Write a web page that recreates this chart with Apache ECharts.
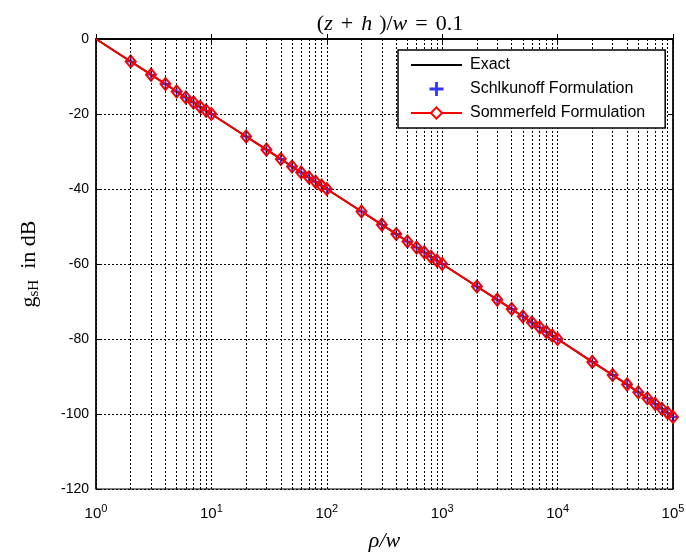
<!DOCTYPE html>
<html><head><meta charset="utf-8">
<script src="https://cdn.jsdelivr.net/npm/echarts@6/dist/echarts.min.js"></script>
<style>html,body{margin:0;padding:0;background:#fff}#c{width:686px;height:556px}</style>
</head><body><div id="c"></div>
<script>
// data
const rhoOverW = [1,2,3,4,5,6,7,8,9,10,20,30,40,50,60,70,80,90,100,200,300,400,500,600,700,800,900,1000,2000,3000,4000,5000,6000,7000,8000,9000,10000,20000,30000,40000,50000,60000,70000,80000,90000,100000];
const exactDb = [0,-6.0,-9.5,-12.0,-14.0,-15.6,-16.9,-18.1,-19.1,-20.0,-26.0,-29.5,-32.0,-34.0,-35.6,-36.9,-38.1,-39.1,-40.0,-46.0,-49.5,-52.0,-54.0,-55.6,-56.9,-58.1,-59.1,-60.0,-66.0,-69.5,-72.0,-74.0,-75.6,-76.9,-78.1,-79.1,-80.0,-86.1,-89.6,-92.1,-94.2,-95.8,-97.3,-98.6,-99.7,-100.8];
const schelkunoffDb = exactDb.slice();
const sommerfeldDb = exactDb.slice();
const minorGrid = [2,3,4,5,6,7,8,9,20,30,40,50,60,70,80,90,200,300,400,500,600,700,800,900,2000,3000,4000,5000,6000,7000,8000,9000,20000,30000,40000,50000,60000,70000,80000,90000];
const yTicks = {min:-120, max:0, step:20};

const pair = (xs, ys, from) => xs.map((x,i)=>[x, ys[i]]).slice(from);
const dotted = {color:'#000', width:1, type:[2,2]};
const plusPath = 'path://M4,0h2v4h4v2h-4v4h-2v-4h-4v-2h4z';
const serif = 'Liberation Serif', sans = 'Liberation Sans';

const chart = echarts.init(document.getElementById('c'));
chart.setOption({
  animation:false,
  backgroundColor:'#fff',
  title:{
    text:'{p|(}{i|z}{q|+}{i|h}{r|)}{p|/}{i|w}{q|=}{p|0.1}',
    left:385, top:8, textAlign:'center',
    textStyle:{fontWeight:'normal', rich:{
      p:{fontFamily:serif,fontSize:22,color:'#000',fontWeight:'normal'},
      q:{fontFamily:serif,fontSize:22,color:'#000',fontWeight:'normal',padding:[0,8,0,8]},
      r:{fontFamily:serif,fontSize:22,color:'#000',fontWeight:'normal',padding:[0,0,0,7]},
      i:{fontFamily:serif,fontSize:22,fontStyle:'italic',color:'#000',fontWeight:'normal'}
    }}
  },
  grid:{left:96, right:13, top:39, bottom:67, outerBoundsMode:'none', containLabel:false,
        show:true, borderColor:'#000', borderWidth:1},
  legend:{
    orient:'vertical', left:398, top:50, z:20,
    backgroundColor:'#fff', borderColor:'#000', borderWidth:1.5, borderRadius:0,
    padding:[6,20,6,12], itemGap:6, itemWidth:51, itemHeight:14,
    textStyle:{fontFamily:sans, fontSize:16, color:'#000', lineHeight:18, padding:[0,0,0,3]},
    data:[
      {name:'Exact', itemStyle:{color:'rgba(0,0,0,0)', borderColor:'rgba(0,0,0,0)', borderWidth:0}},
      {name:'Schlkunoff Formulation'},
      {name:'Sommerfeld Formulation', itemStyle:{color:'#fff', borderColor:'#ff0000', borderWidth:2}}
    ]
  },
  xAxis:[{
    type:'log', logBase:10, min:1, max:100000, splitNumber:5,
    name:'{i|ρ}{p|/}{i|w}', nameLocation:'middle', nameGap:41,
    nameTextStyle:{rich:{
      i:{fontFamily:serif,fontSize:22,fontStyle:'italic',color:'#000'},
      p:{fontFamily:serif,fontSize:22,fontStyle:'italic',color:'#000'}
    }},
    axisLine:{show:true, lineStyle:{color:'#000', width:1.5}},
    axisTick:{show:true, inside:true, length:5, lineStyle:{color:'#000'}},
    axisLabel:{margin:14, formatter:v=>'{b|10}{s|'+Math.round(Math.log10(v))+'}',
      rich:{b:{fontFamily:sans,fontSize:15,color:'#000'},
            s:{fontFamily:sans,fontSize:11,color:'#000',verticalAlign:'top',padding:[0,0,10,0]}}},
    splitLine:{show:true, lineStyle:dotted}
  },{
    type:'log', logBase:10, min:1, max:100000, splitNumber:5, position:'top',
    axisLine:{show:true, lineStyle:{color:'#000', width:1.5}},
    axisTick:{show:true, inside:true, length:5, lineStyle:{color:'#000'}},
    axisLabel:{show:false}, splitLine:{show:false}
  }],
  yAxis:[{
    type:'value', min:yTicks.min, max:yTicks.max, interval:yTicks.step,
    name:'{g|g}{s|sH}{g|  in dB}', nameLocation:'middle', nameRotate:90, nameGap:54,
    nameTextStyle:{rich:{
      g:{fontFamily:serif,fontSize:22,color:'#000'},
      s:{fontFamily:serif,fontSize:15,color:'#000',padding:[11,0,0,0]}
    }},
    axisLine:{show:true, lineStyle:{color:'#000', width:1.5}},
    axisTick:{show:true, inside:true, length:5, lineStyle:{color:'#000'}},
    axisLabel:{margin:7, fontFamily:sans, fontSize:14, color:'#000'},
    splitLine:{show:true, lineStyle:dotted}
  },{
    type:'value', min:yTicks.min, max:yTicks.max, interval:yTicks.step, position:'right',
    axisLine:{show:true, lineStyle:{color:'#000', width:1.5}},
    axisTick:{show:true, inside:true, length:5, lineStyle:{color:'#000'}},
    axisLabel:{show:false}, splitLine:{show:false}
  }],
  series:[
    {name:'Exact', type:'line', data:pair(rhoOverW, exactDb, 0), showSymbol:false, symbol:'none',
     lineStyle:{color:'#000', width:2}, itemStyle:{color:'#000'}, z:2,
     markLine:{silent:true, symbol:['none','none'], label:{show:false}, animation:false,
       lineStyle:dotted, data:minorGrid.map(v=>({xAxis:v}))}},
    {name:'Schlkunoff Formulation', type:'scatter', data:pair(rhoOverW, schelkunoffDb, 1),
     symbol:plusPath, symbolSize:9, itemStyle:{color:'#0000ff'}, z:3},
    {name:'Sommerfeld Formulation', type:'line', data:pair(rhoOverW, sommerfeldDb, 0).map((p,i)=>i===0?{value:p,symbol:'none'}:p),
     symbol:'diamond', symbolSize:[10,12], showAllSymbol:true,
     lineStyle:{color:'#ff0000', width:2},
     itemStyle:{color:'rgba(255,255,255,0)', borderColor:'#ff0000', borderWidth:2}, z:4}
  ]
});
</script></body></html>
